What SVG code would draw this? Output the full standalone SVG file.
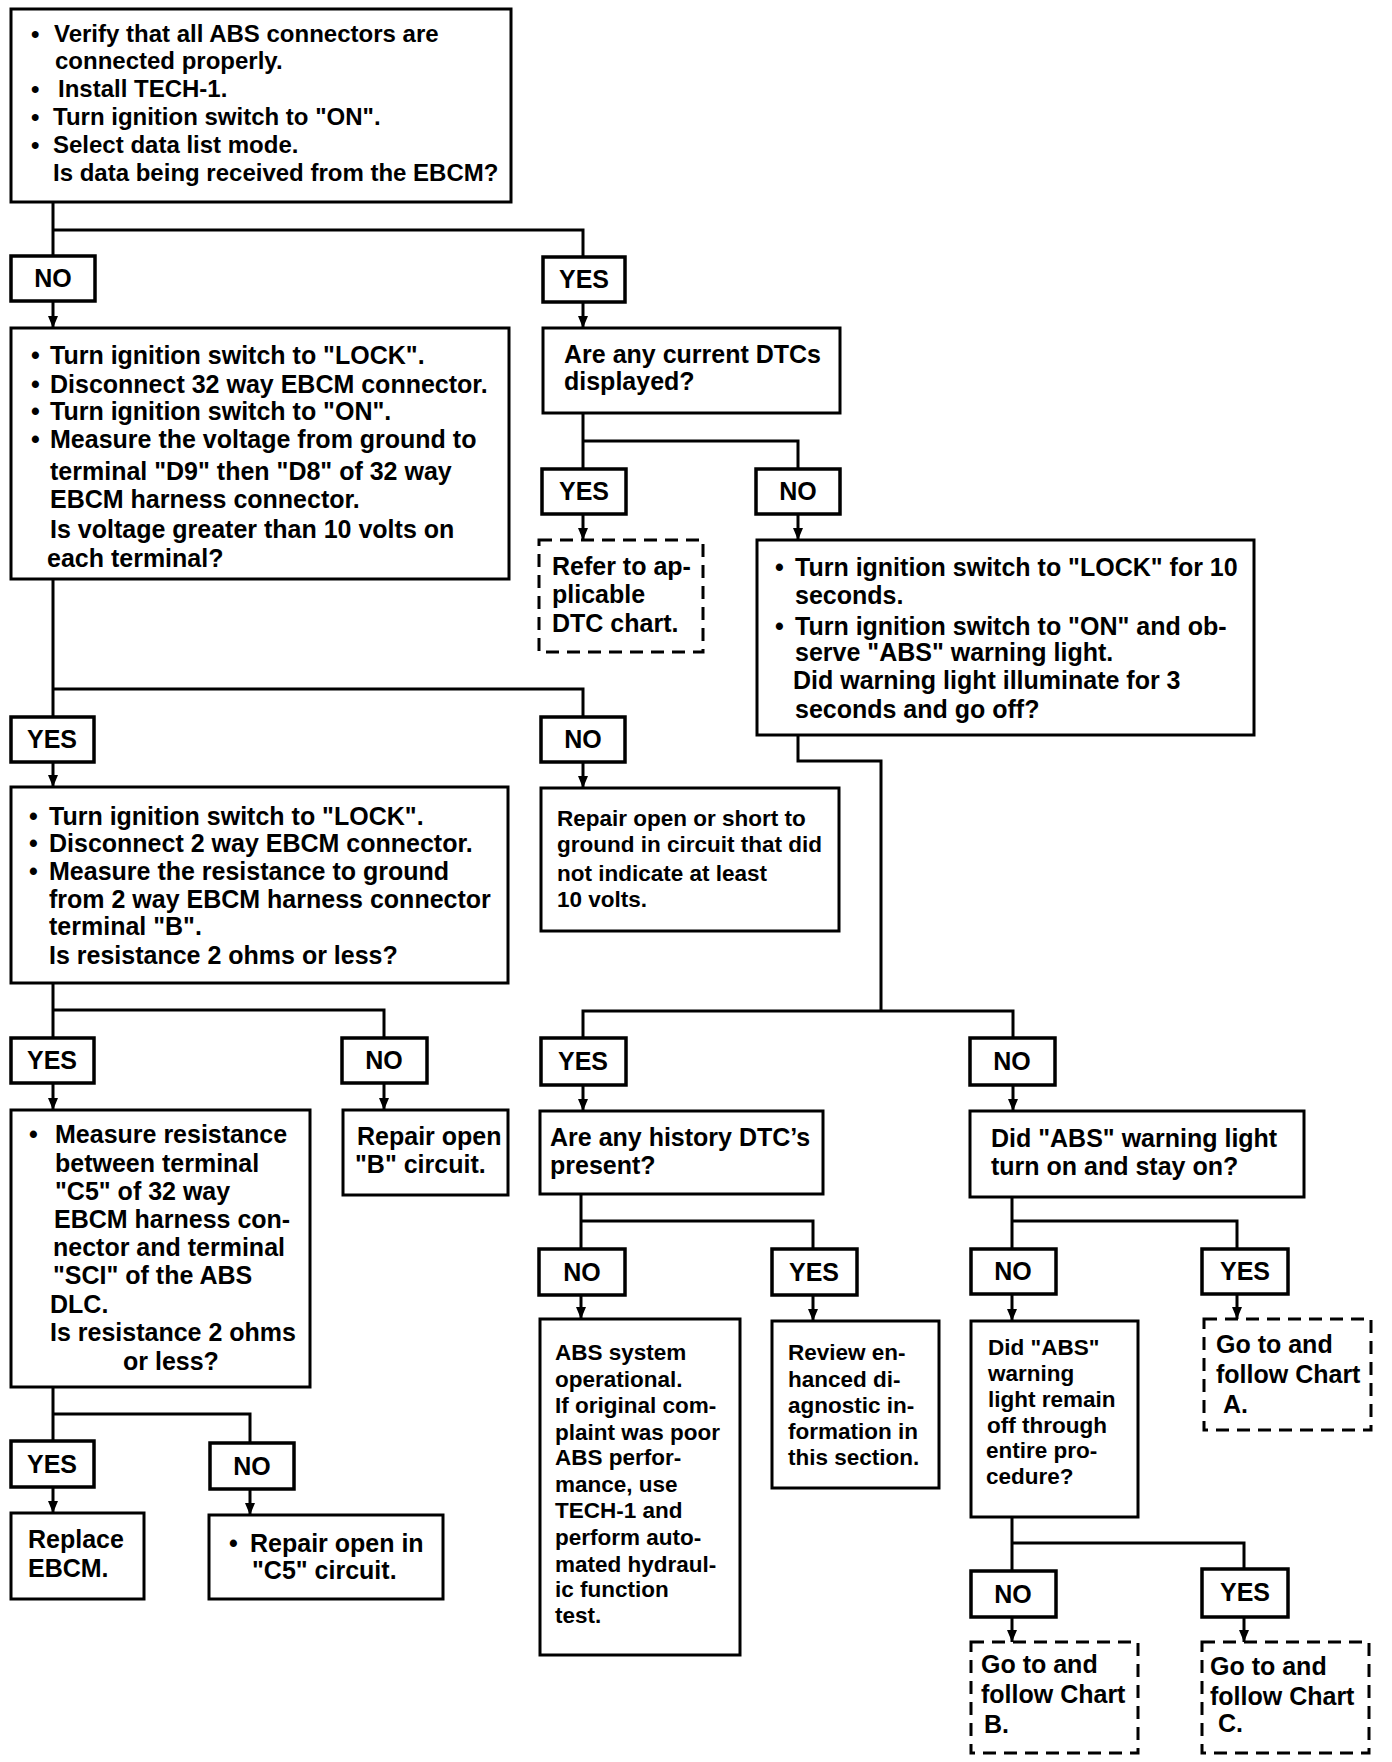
<svg xmlns="http://www.w3.org/2000/svg" width="1392" height="1762" viewBox="0 0 1392 1762">
<style>
.box{fill:#fff;stroke:#000;stroke-width:3}
.dash{fill:#fff;stroke:#000;stroke-width:3;stroke-dasharray:13 8}
.lbl{fill:#fff;stroke:#000;stroke-width:3.5}
text{font-family:"Liberation Sans",Arial,Helvetica,sans-serif;font-weight:bold;font-size:25px;fill:#000}
.f24{font-size:24px}
.s{font-size:22.5px}
.c{text-anchor:middle}
#connectors path{stroke:#000;stroke-width:3;fill:none}
.arr{marker-end:url(#ah)}
</style>
<defs>
<marker id="ah" markerUnits="userSpaceOnUse" viewBox="0 0 12 10" refX="12" refY="5" markerWidth="12" markerHeight="10" orient="auto">
<path d="M0,0 L12,5 L0,10 z" fill="#000"/>
</marker>
</defs>
<rect width="1392" height="1762" fill="#fff"/>

<g id="connectors">
<path d="M53,202 V256 M53,230 H583 V257"/>
<path class="arr" d="M53,301 V328"/>
<path class="arr" d="M583,302 V328"/>
<path d="M583,413 V470 M583,441 H798 V470"/>
<path class="arr" d="M583,515 V540"/>
<path class="arr" d="M798,515 V540"/>
<path d="M53,579 V717 M53,689 H583 V717"/>
<path class="arr" d="M53,762 V787"/>
<path class="arr" d="M583,762 V788"/>
<path d="M798,735 V761 H881 V1011 M583,1038 V1011 H1013 V1038"/>
<path d="M53,983 V1038 M53,1010 H384 V1038"/>
<path class="arr" d="M53,1083 V1110"/>
<path class="arr" d="M384,1083 V1110"/>
<path class="arr" d="M583,1085 V1111"/>
<path class="arr" d="M1013,1085 V1111"/>
<path d="M53,1387 V1441 M53,1414 H250 V1443"/>
<path class="arr" d="M53,1487 V1513"/>
<path class="arr" d="M250,1489 V1515"/>
<path d="M581,1194 V1249 M581,1221 H813 V1249"/>
<path class="arr" d="M581,1295 V1319"/>
<path class="arr" d="M813,1295 V1321"/>
<path d="M1012,1197 V1249 M1012,1221 H1237 V1249"/>
<path class="arr" d="M1012,1294 V1321"/>
<path class="arr" d="M1237,1294 V1319"/>
<path d="M1012,1517 V1571 M1012,1543 H1244 V1569"/>
<path class="arr" d="M1012,1617 V1642"/>
<path class="arr" d="M1244,1617 V1642"/>
</g>

<g id="n-start">
<rect class="box" x="11" y="9" width="500" height="193"/>
<text class="f24"><tspan x="31" y="42">•</tspan><tspan x="54" y="42">Verify that all ABS connectors are</tspan><tspan x="55" y="69">connected properly.</tspan><tspan x="31" y="97">•</tspan><tspan x="58" y="97">Install TECH-1.</tspan><tspan x="31" y="125">•</tspan><tspan x="53" y="125">Turn ignition switch to "ON".</tspan><tspan x="31" y="153">•</tspan><tspan x="53" y="153">Select data list mode.</tspan><tspan x="53" y="181">Is data being received from the EBCM?</tspan></text>
</g>

<g id="l-no1"><rect class="lbl" x="11" y="256" width="84" height="45"/><text class="c" x="53" y="287">NO</text></g>
<g id="l-yes1"><rect class="lbl" x="543" y="257" width="82" height="45"/><text class="c" x="584" y="288">YES</text></g>

<g id="n-voltage">
<rect class="box" x="11" y="328" width="498" height="251"/>
<text><tspan x="31" y="364">•</tspan><tspan x="50" y="364">Turn ignition switch to "LOCK".</tspan><tspan x="31" y="393">•</tspan><tspan x="50" y="393">Disconnect 32 way EBCM connector.</tspan><tspan x="31" y="420">•</tspan><tspan x="50" y="420">Turn ignition switch to "ON".</tspan><tspan x="31" y="448">•</tspan><tspan x="50" y="448">Measure the voltage from ground to</tspan><tspan x="50" y="480">terminal "D9" then "D8" of 32 way</tspan><tspan x="50" y="508">EBCM harness connector.</tspan><tspan x="50" y="538">Is voltage greater than 10 volts on</tspan><tspan x="47" y="567">each terminal?</tspan></text>
</g>

<g id="n-current">
<rect class="box" x="543" y="328" width="297" height="85"/>
<text><tspan x="564" y="363">Are any current DTCs</tspan><tspan x="564" y="390">displayed?</tspan></text>
</g>

<g id="l-yes2"><rect class="lbl" x="542" y="469" width="84" height="45"/><text class="c" x="584" y="500">YES</text></g>
<g id="l-no2"><rect class="lbl" x="756" y="469" width="84" height="45"/><text class="c" x="798" y="500">NO</text></g>

<g id="n-refer">
<rect class="dash" x="539" y="540" width="164" height="112"/>
<text><tspan x="552" y="575">Refer to ap-</tspan><tspan x="552" y="603">plicable</tspan><tspan x="552" y="632">DTC chart.</tspan></text>
</g>

<g id="n-lock10">
<rect class="box" x="757" y="540" width="497" height="195"/>
<text><tspan x="775" y="576">•</tspan><tspan x="795" y="576">Turn ignition switch to "LOCK" for 10</tspan><tspan x="795" y="604">seconds.</tspan><tspan x="775" y="635">•</tspan><tspan x="795" y="635">Turn ignition switch to "ON" and ob-</tspan><tspan x="795" y="661">serve "ABS" warning light.</tspan><tspan x="793" y="689">Did warning light illuminate for 3</tspan><tspan x="795" y="718">seconds and go off?</tspan></text>
</g>

<g id="l-yes3"><rect class="lbl" x="11" y="717" width="83" height="45"/><text class="c" x="52" y="748">YES</text></g>
<g id="l-no3"><rect class="lbl" x="541" y="717" width="84" height="45"/><text class="c" x="583" y="748">NO</text></g>

<g id="n-resist-b">
<rect class="box" x="11" y="787" width="497" height="196"/>
<text><tspan x="29" y="825">•</tspan><tspan x="49" y="825">Turn ignition switch to "LOCK".</tspan><tspan x="29" y="852">•</tspan><tspan x="49" y="852">Disconnect 2 way EBCM connector.</tspan><tspan x="29" y="880">•</tspan><tspan x="49" y="880">Measure the resistance to ground</tspan><tspan x="49" y="908">from 2 way EBCM harness connector</tspan><tspan x="49" y="935">terminal "B".</tspan><tspan x="49" y="964">Is resistance 2 ohms or less?</tspan></text>
</g>

<g id="n-repair-short">
<rect class="box" x="541" y="788" width="298" height="143"/>
<text class="s"><tspan x="557" y="826">Repair open or short to</tspan><tspan x="557" y="852">ground in circuit that did</tspan><tspan x="557" y="881">not indicate at least</tspan><tspan x="557" y="907">10 volts.</tspan></text>
</g>

<g id="l-yes4"><rect class="lbl" x="11" y="1038" width="83" height="45"/><text class="c" x="52" y="1069">YES</text></g>
<g id="l-no4"><rect class="lbl" x="342" y="1038" width="85" height="45"/><text class="c" x="384" y="1069">NO</text></g>
<g id="l-yes5"><rect class="lbl" x="541" y="1038" width="85" height="47"/><text class="c" x="583" y="1070">YES</text></g>
<g id="l-no5"><rect class="lbl" x="970" y="1038" width="85" height="47"/><text class="c" x="1012" y="1070">NO</text></g>

<g id="n-measure-c5">
<rect class="box" x="11" y="1110" width="299" height="277"/>
<text><tspan x="29" y="1143">•</tspan><tspan x="55" y="1143">Measure resistance</tspan><tspan x="55" y="1172">between terminal</tspan><tspan x="55" y="1200">"C5" of 32 way</tspan><tspan x="54" y="1228">EBCM harness con-</tspan><tspan x="53" y="1256">nector and terminal</tspan><tspan x="53" y="1284">"SCI" of the ABS</tspan><tspan x="50" y="1313">DLC.</tspan><tspan x="50" y="1341">Is resistance 2 ohms</tspan><tspan x="123" y="1370">or less?</tspan></text>
</g>

<g id="n-repair-b">
<rect class="box" x="343" y="1110" width="165" height="85"/>
<text><tspan x="357" y="1145">Repair open</tspan><tspan x="355" y="1173">"B" circuit.</tspan></text>
</g>

<g id="n-history">
<rect class="box" x="540" y="1111" width="283" height="83"/>
<text><tspan x="550" y="1146">Are any history DTC’s</tspan><tspan x="550" y="1174">present?</tspan></text>
</g>

<g id="n-stayon">
<rect class="box" x="970" y="1111" width="334" height="86"/>
<text><tspan x="991" y="1147">Did "ABS" warning light</tspan><tspan x="991" y="1175">turn on and stay on?</tspan></text>
</g>

<g id="l-yes6"><rect class="lbl" x="11" y="1441" width="83" height="46"/><text class="c" x="52" y="1473">YES</text></g>
<g id="l-no6"><rect class="lbl" x="210" y="1443" width="84" height="46"/><text class="c" x="252" y="1475">NO</text></g>
<g id="l-no7"><rect class="lbl" x="539" y="1249" width="86" height="46"/><text class="c" x="582" y="1281">NO</text></g>
<g id="l-yes7"><rect class="lbl" x="772" y="1249" width="85" height="46"/><text class="c" x="814" y="1281">YES</text></g>
<g id="l-no8"><rect class="lbl" x="971" y="1249" width="85" height="45"/><text class="c" x="1013" y="1280">NO</text></g>
<g id="l-yes8"><rect class="lbl" x="1202" y="1249" width="86" height="45"/><text class="c" x="1245" y="1280">YES</text></g>

<g id="n-replace">
<rect class="box" x="11" y="1513" width="133" height="86"/>
<text><tspan x="28" y="1548">Replace</tspan><tspan x="28" y="1577">EBCM.</tspan></text>
</g>

<g id="n-repair-c5">
<rect class="box" x="209" y="1515" width="234" height="84"/>
<text><tspan x="229" y="1552">•</tspan><tspan x="250" y="1552">Repair open in</tspan><tspan x="252" y="1579">"C5" circuit.</tspan></text>
</g>

<g id="n-operational">
<rect class="box" x="540" y="1319" width="200" height="336"/>
<text class="s"><tspan x="555" y="1360">ABS system</tspan><tspan x="555" y="1387">operational.</tspan><tspan x="555" y="1413">If original com-</tspan><tspan x="555" y="1440">plaint was poor</tspan><tspan x="555" y="1465">ABS perfor-</tspan><tspan x="555" y="1492">mance, use</tspan><tspan x="555" y="1518">TECH-1 and</tspan><tspan x="555" y="1545">perform auto-</tspan><tspan x="555" y="1572">mated hydraul-</tspan><tspan x="555" y="1597">ic function</tspan><tspan x="555" y="1623">test.</tspan></text>
</g>

<g id="n-review">
<rect class="box" x="772" y="1321" width="167" height="167"/>
<text class="s"><tspan x="788" y="1360">Review en-</tspan><tspan x="788" y="1387">hanced di-</tspan><tspan x="788" y="1413">agnostic in-</tspan><tspan x="788" y="1439">formation in</tspan><tspan x="788" y="1465">this section.</tspan></text>
</g>

<g id="n-remainoff">
<rect class="box" x="971" y="1321" width="167" height="196"/>
<text class="s"><tspan x="988" y="1355">Did "ABS"</tspan><tspan x="988" y="1381">warning</tspan><tspan x="988" y="1407">light remain</tspan><tspan x="987" y="1433">off through</tspan><tspan x="986" y="1458">entire pro-</tspan><tspan x="986" y="1484">cedure?</tspan></text>
</g>

<g id="n-chart-a">
<rect class="dash" x="1204" y="1319" width="167" height="111"/>
<text><tspan x="1216" y="1353">Go to and</tspan><tspan x="1216" y="1383">follow Chart</tspan><tspan x="1223" y="1413">A.</tspan></text>
</g>

<g id="l-no9"><rect class="lbl" x="971" y="1571" width="85" height="46"/><text class="c" x="1013" y="1603">NO</text></g>
<g id="l-yes9"><rect class="lbl" x="1202" y="1569" width="86" height="48"/><text class="c" x="1245" y="1601">YES</text></g>

<g id="n-chart-b">
<rect class="dash" x="971" y="1642" width="167" height="111"/>
<text><tspan x="981" y="1673">Go to and</tspan><tspan x="981" y="1703">follow Chart</tspan><tspan x="984" y="1733">B.</tspan></text>
</g>

<g id="n-chart-c">
<rect class="dash" x="1202" y="1642" width="167" height="111"/>
<text><tspan x="1210" y="1675">Go to and</tspan><tspan x="1210" y="1705">follow Chart</tspan><tspan x="1218" y="1732">C.</tspan></text>
</g>
</svg>
